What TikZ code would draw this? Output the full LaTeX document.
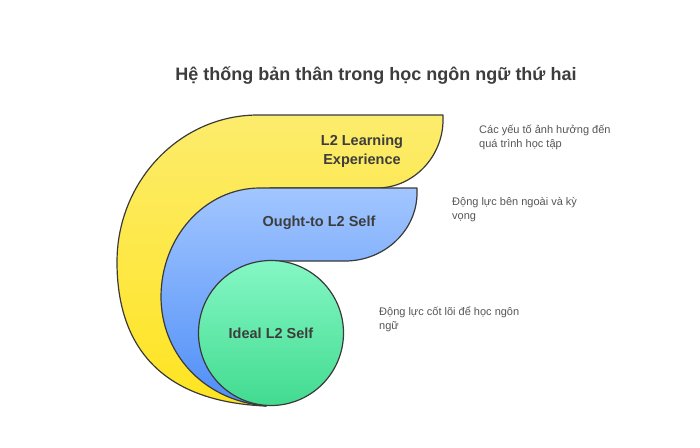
\documentclass[tikz,border=0pt]{standalone}
\usepackage{fontspec}
\setmainfont{Liberation Sans}
\definecolor{edge}{HTML}{3A3A3A}
\definecolor{txt}{HTML}{3D3D3D}
\definecolor{notetxt}{HTML}{555555}
\definecolor{yellowtop}{HTML}{FCEC6C}
\definecolor{yellowbot}{HTML}{FFE420}
\definecolor{bluetop}{HTML}{A2C6FF}
\definecolor{bluebot}{HTML}{4E8EF7}
\definecolor{greentop}{HTML}{84F7C4}
\definecolor{greenbot}{HTML}{42DB90}
\begin{document}
\begin{tikzpicture}[x=1pt,y=-1pt,
		shapeedge/.style={draw=edge, line width=1.2pt, line join=round},
		lbl/.style={font=\bfseries\fontsize{14.5}{18.5}\selectfont, text=txt, align=center},
		note/.style={font=\fontsize{11}{14}\selectfont, text=notetxt, align=left, anchor=west, inner sep=0pt}]
	\useasboundingbox (0,0) rectangle (700,447);
	
	\node[font=\bfseries\fontsize{18}{22}\selectfont, text=txt, anchor=base] (title) at (376,80) {Hệ thống bản thân trong học ngôn ngữ thứ hai};
	
	% outer layer
	\shadedraw[shapeedge, top color=yellowtop, bottom color=yellowbot]
		(258,115) -- (443,115) -- (443,120) .. controls (443,157) and (413,188) .. (377,188) -- (270,188) -- (266,406)
		.. controls (165,402) and (117,350) .. (117,262) .. controls (117,181) and (180,115) .. (258,115) -- cycle;
	% middle layer
	\shadedraw[shapeedge, top color=bluetop, bottom color=bluebot]
		(260,188) -- (417,188) -- (417,193) .. controls (417,230) and (385,261) .. (345,261) -- (271,261) -- (271,333) -- (266,406)
		.. controls (200,400) and (161,350) .. (161,297) .. controls (161,237) and (205,188) .. (260,188) -- cycle;
	% core
	\node[circle, shapeedge, minimum size=145pt, top color=greentop, bottom color=greenbot, lbl] (ideal) at (271,333) {Ideal L2 Self};
	
	\node[lbl] (learning) at (362,151) {L2 Learning\\Experience};
	\node[lbl] (oughtto) at (319,223) {Ought-to L2 Self};
	
	\node[note] (n1) at (479,137) {Các yếu tố ảnh hưởng đến\\quá trình học tập};
	\node[note] (n2) at (452,210) {Động lực bên ngoài và kỳ\\vọng};
	\node[note] (n3) at (379,319.5) {Động lực cốt lõi để học ngôn\\ngữ};
\end{tikzpicture}
\end{document}
